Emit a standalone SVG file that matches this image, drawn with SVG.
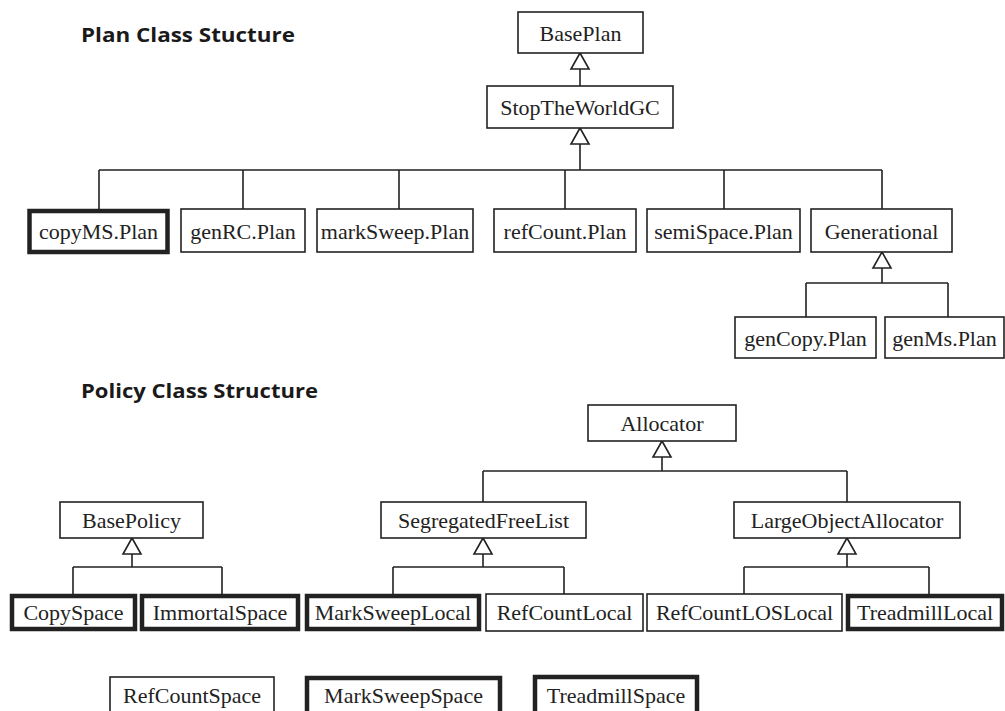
<svg xmlns="http://www.w3.org/2000/svg" xmlns:xlink="http://www.w3.org/1999/xlink" width="1005" height="711" viewBox="0 0 1005 711">
  <style>
    .box { fill: #fff; stroke: #222; stroke-width: 1.6; }
    .box.heavy { stroke-width: 4.5; }
    .lbl { font-family: "Liberation Serif", "Times New Roman", serif; font-size: 22px; fill: #222; text-anchor: middle; }
    .title { font-family: "Open Sans", "Liberation Sans", sans-serif; font-weight: 700; font-size: 20px; fill: #1a1a1a; }
    .wire { fill: none; stroke: #222; stroke-width: 1.6; }
    .tri { fill: #fff; stroke: #222; stroke-width: 1.6; stroke-linejoin: miter; }
  </style>
  <defs>
    <!-- hollow inheritance head, apex at origin pointing up -->
    <path id="gen" class="tri" d="M0,0 L-9,16 L9,16 Z"/>
  </defs>

  <rect x="0" y="0" width="1005" height="711" fill="#fff"/>

  <text class="title" x="81" y="42" textLength="214" lengthAdjust="spacingAndGlyphs">Plan Class Stucture</text>
  <text class="title" x="81" y="398" textLength="237" lengthAdjust="spacingAndGlyphs">Policy Class Structure</text>

  <!-- inheritance wiring -->
  <g id="connectors">
    <!-- plan hierarchy -->
    <path class="wire" d="M580,69 V86"/>
    <path class="wire" d="M580,144 V170 M99,170 H882 M99,170 V209 M243,170 V209 M399,170 V209 M565,170 V209 M724,170 V209 M882,170 V209"/>
    <path class="wire" d="M882,268 V283 M806,283 H948 M806,283 V317 M948,283 V317"/>
    <use xlink:href="#gen" x="580" y="53"/>
    <use xlink:href="#gen" x="580" y="128"/>
    <use xlink:href="#gen" x="882" y="252"/>

    <!-- policy hierarchy -->
    <path class="wire" d="M662,457 V471 M483,471 H847 M483,471 V502 M847,471 V502"/>
    <path class="wire" d="M132,554 V567 M73,567 H222 M73,567 V594 M222,567 V594"/>
    <path class="wire" d="M483,554 V567 M393,567 H564 M393,567 V594 M564,567 V594"/>
    <path class="wire" d="M847,554 V567 M744,567 H929 M744,567 V594 M929,567 V594"/>
    <use xlink:href="#gen" x="662" y="441"/>
    <use xlink:href="#gen" x="132" y="538"/>
    <use xlink:href="#gen" x="483" y="538"/>
    <use xlink:href="#gen" x="847" y="538"/>
  </g>

  <!-- plan classes -->
  <g id="BasePlan"><rect class="box" x="518" y="12" width="125" height="41"/><text class="lbl" x="580.5" y="41">BasePlan</text></g>
  <g id="StopTheWorldGC"><rect class="box" x="487" y="86" width="186" height="42"/><text class="lbl" x="580" y="115">StopTheWorldGC</text></g>
  <g id="copyMS_Plan"><rect class="box heavy" x="29.5" y="211" width="138" height="41"/><text class="lbl" x="98.5" y="239">copyMS.Plan</text></g>
  <g id="genRC_Plan"><rect class="box" x="181" y="209" width="124" height="43"/><text class="lbl" x="243" y="239">genRC.Plan</text></g>
  <g id="markSweep_Plan"><rect class="box" x="317" y="209" width="156" height="43"/><text class="lbl" x="395" y="239">markSweep.Plan</text></g>
  <g id="refCount_Plan"><rect class="box" x="494" y="209" width="142" height="43"/><text class="lbl" x="565" y="239">refCount.Plan</text></g>
  <g id="semiSpace_Plan"><rect class="box" x="647" y="209" width="153" height="43"/><text class="lbl" x="723.5" y="239">semiSpace.Plan</text></g>
  <g id="Generational"><rect class="box" x="811" y="209" width="141" height="43"/><text class="lbl" x="881.5" y="239">Generational</text></g>
  <g id="genCopy_Plan"><rect class="box" x="735" y="317" width="141" height="41"/><text class="lbl" x="805.5" y="346">genCopy.Plan</text></g>
  <g id="genMs_Plan"><rect class="box" x="885" y="317" width="119" height="41"/><text class="lbl" x="944.5" y="346">genMs.Plan</text></g>

  <!-- policy classes -->
  <g id="Allocator"><rect class="box" x="588" y="405" width="148" height="36"/><text class="lbl" x="662" y="431">Allocator</text></g>
  <g id="BasePolicy"><rect class="box" x="60" y="502" width="143" height="36"/><text class="lbl" x="131.5" y="528">BasePolicy</text></g>
  <g id="SegregatedFreeList"><rect class="box" x="381" y="502" width="205" height="36"/><text class="lbl" x="483.5" y="528">SegregatedFreeList</text></g>
  <g id="LargeObjectAllocator"><rect class="box" x="734" y="502" width="226" height="36"/><text class="lbl" x="847" y="528">LargeObjectAllocator</text></g>

  <g id="CopySpace"><rect class="box heavy" x="12" y="596" width="123" height="33"/><text class="lbl" x="73.5" y="620">CopySpace</text></g>
  <g id="ImmortalSpace"><rect class="box heavy" x="142" y="596" width="156" height="33"/><text class="lbl" x="220" y="620">ImmortalSpace</text></g>
  <g id="MarkSweepLocal"><rect class="box heavy" x="307" y="596" width="172" height="33"/><text class="lbl" x="393" y="620">MarkSweepLocal</text></g>
  <g id="RefCountLocal"><rect class="box" x="486" y="594" width="157" height="37"/><text class="lbl" x="564.5" y="620">RefCountLocal</text></g>
  <g id="RefCountLOSLocal"><rect class="box" x="647" y="594" width="195" height="37"/><text class="lbl" x="744.5" y="620">RefCountLOSLocal</text></g>
  <g id="TreadmillLocal"><rect class="box heavy" x="848" y="596" width="154" height="33"/><text class="lbl" x="925" y="620">TreadmillLocal</text></g>

  <g id="RefCountSpace"><rect class="box" x="110" y="677" width="164" height="40"/><text class="lbl" x="192" y="703">RefCountSpace</text></g>
  <g id="MarkSweepSpace"><rect class="box heavy" x="307" y="678" width="193" height="40"/><text class="lbl" x="403.5" y="703">MarkSweepSpace</text></g>
  <g id="TreadmillSpace"><rect class="box heavy" x="535" y="677" width="162" height="40"/><text class="lbl" x="616" y="703">TreadmillSpace</text></g>
</svg>
